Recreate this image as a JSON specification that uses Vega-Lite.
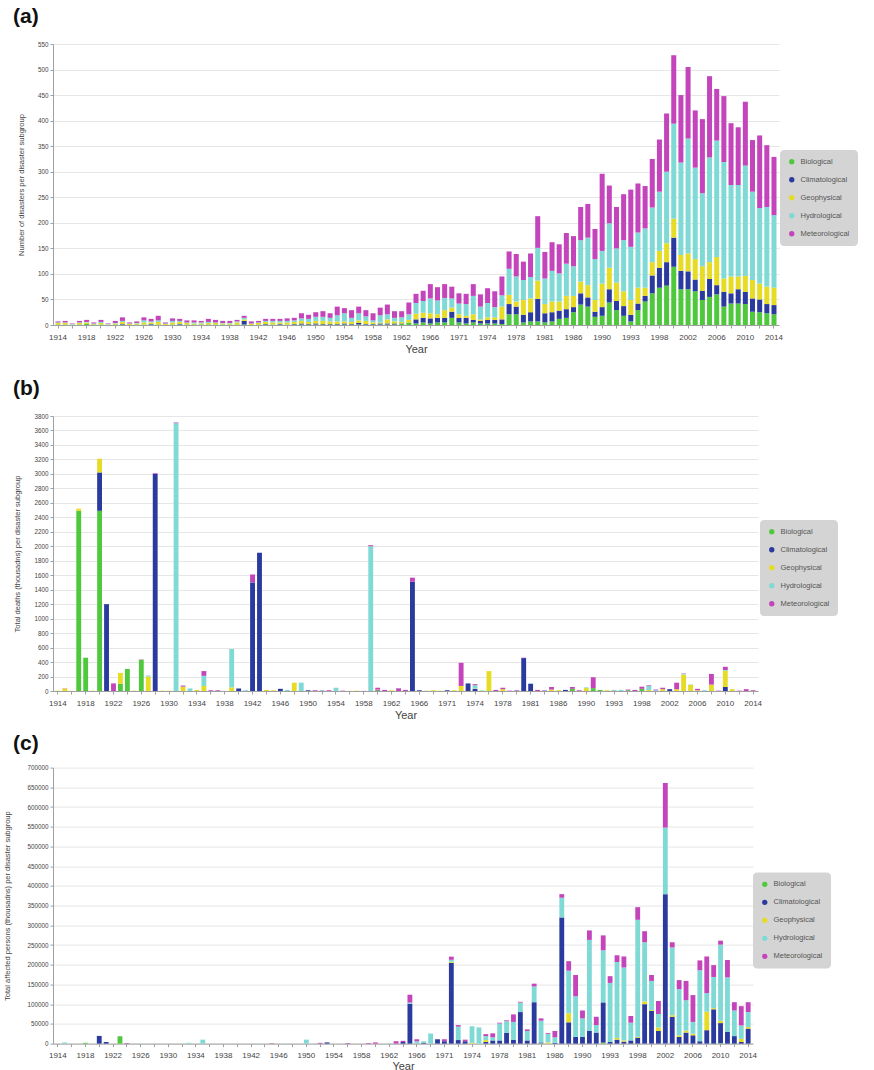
{
  "$schema": "https://vega.github.io/schema/vega-lite/v6.json",
  "background": "white",
  "padding": {"left": 3, "top": 6, "right": 0, "bottom": 0},
  "config": {
    "font": "Liberation Sans",
    "view": {"stroke": null},
    "axis": {
      "labelFont": "Liberation Sans",
      "titleFont": "Liberation Sans",
      "labelColor": "#444444",
      "titleColor": "#444444",
      "titleFontWeight": "normal",
      "domainColor": "#a0a0a0",
      "tickColor": "#a0a0a0",
      "gridColor": "#e6e6e6",
      "tickSize": 3,
      "labelPadding": 2
    },
    "axisX": {"labelAngle": 0, "labelFontSize": 8, "labelPadding": 5, "titleFontSize": 11, "titlePadding": 2, "grid": false},
    "axisY": {"labelFontSize": 6.3, "titleFontSize": 7.5, "titleAngle": -90, "titleAlign": "center", "titleBaseline": "middle"},
    "legend": {
      "symbolType": "circle",
      "symbolSize": 28,
      "symbolStrokeWidth": 0,
      "labelFont": "Liberation Sans",
      "labelFontSize": 7.5,
      "labelColor": "#555555",
      "labelOffset": 5,
      "fillColor": "#d4d4d4",
      "cornerRadius": 4,
      "padding": 8,
      "rowPadding": 9
    },
    "title": {"font": "Liberation Sans", "fontSize": 21, "fontWeight": "bold", "color": "#111111", "anchor": "start", "frame": "group"}
  },
  "datasets": {
    "counts": [
      {"year":1914,"Biological":1,"Climatological":0,"Geophysical":3,"Hydrological":1,"Meteorological":2},
      {"year":1915,"Biological":1,"Climatological":0,"Geophysical":3,"Hydrological":1,"Meteorological":3},
      {"year":1916,"Biological":0,"Climatological":0,"Geophysical":1,"Hydrological":1,"Meteorological":1},
      {"year":1917,"Biological":1,"Climatological":0,"Geophysical":3,"Hydrological":1,"Meteorological":3},
      {"year":1918,"Biological":2,"Climatological":0,"Geophysical":3,"Hydrological":1,"Meteorological":4},
      {"year":1919,"Biological":1,"Climatological":0,"Geophysical":1,"Hydrological":1,"Meteorological":2},
      {"year":1920,"Biological":1,"Climatological":0,"Geophysical":3,"Hydrological":2,"Meteorological":4},
      {"year":1921,"Biological":0,"Climatological":0,"Geophysical":1,"Hydrological":1,"Meteorological":1},
      {"year":1922,"Biological":1,"Climatological":0,"Geophysical":2,"Hydrological":1,"Meteorological":4},
      {"year":1923,"Biological":1,"Climatological":1,"Geophysical":4,"Hydrological":2,"Meteorological":7},
      {"year":1924,"Biological":0,"Climatological":0,"Geophysical":2,"Hydrological":1,"Meteorological":2},
      {"year":1925,"Biological":1,"Climatological":0,"Geophysical":2,"Hydrological":1,"Meteorological":3},
      {"year":1926,"Biological":1,"Climatological":0,"Geophysical":4,"Hydrological":4,"Meteorological":6},
      {"year":1927,"Biological":1,"Climatological":1,"Geophysical":3,"Hydrological":2,"Meteorological":5},
      {"year":1928,"Biological":1,"Climatological":0,"Geophysical":5,"Hydrological":3,"Meteorological":9},
      {"year":1929,"Biological":0,"Climatological":0,"Geophysical":2,"Hydrological":1,"Meteorological":2},
      {"year":1930,"Biological":1,"Climatological":0,"Geophysical":4,"Hydrological":3,"Meteorological":5},
      {"year":1931,"Biological":1,"Climatological":1,"Geophysical":4,"Hydrological":2,"Meteorological":4},
      {"year":1932,"Biological":1,"Climatological":0,"Geophysical":3,"Hydrological":1,"Meteorological":4},
      {"year":1933,"Biological":1,"Climatological":0,"Geophysical":2,"Hydrological":2,"Meteorological":4},
      {"year":1934,"Biological":1,"Climatological":0,"Geophysical":2,"Hydrological":2,"Meteorological":3},
      {"year":1935,"Biological":1,"Climatological":0,"Geophysical":3,"Hydrological":2,"Meteorological":6},
      {"year":1936,"Biological":1,"Climatological":0,"Geophysical":3,"Hydrological":1,"Meteorological":5},
      {"year":1937,"Biological":1,"Climatological":0,"Geophysical":2,"Hydrological":1,"Meteorological":4},
      {"year":1938,"Biological":1,"Climatological":0,"Geophysical":2,"Hydrological":1,"Meteorological":4},
      {"year":1939,"Biological":1,"Climatological":0,"Geophysical":4,"Hydrological":2,"Meteorological":3},
      {"year":1940,"Biological":1,"Climatological":7,"Geophysical":3,"Hydrological":3,"Meteorological":4},
      {"year":1941,"Biological":0,"Climatological":0,"Geophysical":2,"Hydrological":1,"Meteorological":4},
      {"year":1942,"Biological":1,"Climatological":0,"Geophysical":3,"Hydrological":1,"Meteorological":3},
      {"year":1943,"Biological":1,"Climatological":1,"Geophysical":4,"Hydrological":2,"Meteorological":4},
      {"year":1944,"Biological":1,"Climatological":0,"Geophysical":4,"Hydrological":3,"Meteorological":4},
      {"year":1945,"Biological":1,"Climatological":1,"Geophysical":3,"Hydrological":3,"Meteorological":4},
      {"year":1946,"Biological":1,"Climatological":0,"Geophysical":4,"Hydrological":3,"Meteorological":5},
      {"year":1947,"Biological":1,"Climatological":1,"Geophysical":4,"Hydrological":3,"Meteorological":5},
      {"year":1948,"Biological":1,"Climatological":2,"Geophysical":5,"Hydrological":5,"Meteorological":10},
      {"year":1949,"Biological":1,"Climatological":1,"Geophysical":4,"Hydrological":6,"Meteorological":8},
      {"year":1950,"Biological":1,"Climatological":2,"Geophysical":5,"Hydrological":8,"Meteorological":9},
      {"year":1951,"Biological":1,"Climatological":1,"Geophysical":6,"Hydrological":8,"Meteorological":11},
      {"year":1952,"Biological":1,"Climatological":1,"Geophysical":5,"Hydrological":7,"Meteorological":9},
      {"year":1953,"Biological":1,"Climatological":1,"Geophysical":5,"Hydrological":12,"Meteorological":17},
      {"year":1954,"Biological":1,"Climatological":2,"Geophysical":4,"Hydrological":16,"Meteorological":10},
      {"year":1955,"Biological":1,"Climatological":1,"Geophysical":4,"Hydrological":8,"Meteorological":15},
      {"year":1956,"Biological":1,"Climatological":3,"Geophysical":5,"Hydrological":14,"Meteorological":13},
      {"year":1957,"Biological":1,"Climatological":1,"Geophysical":6,"Hydrological":9,"Meteorological":12},
      {"year":1958,"Biological":1,"Climatological":1,"Geophysical":3,"Hydrological":4,"Meteorological":14},
      {"year":1959,"Biological":1,"Climatological":2,"Geophysical":2,"Hydrological":14,"Meteorological":15},
      {"year":1960,"Biological":1,"Climatological":2,"Geophysical":8,"Hydrological":10,"Meteorological":19},
      {"year":1961,"Biological":1,"Climatological":2,"Geophysical":4,"Hydrological":7,"Meteorological":13},
      {"year":1962,"Biological":2,"Climatological":1,"Geophysical":3,"Hydrological":9,"Meteorological":12},
      {"year":1963,"Biological":5,"Climatological":0,"Geophysical":5,"Hydrological":11,"Meteorological":23},
      {"year":1964,"Biological":3,"Climatological":8,"Geophysical":11,"Hydrological":21,"Meteorological":18},
      {"year":1965,"Biological":5,"Climatological":9,"Geophysical":10,"Hydrological":23,"Meteorological":20},
      {"year":1966,"Biological":3,"Climatological":10,"Geophysical":10,"Hydrological":29,"Meteorological":28},
      {"year":1967,"Biological":5,"Climatological":9,"Geophysical":7,"Hydrological":27,"Meteorological":26},
      {"year":1968,"Biological":5,"Climatological":9,"Geophysical":15,"Hydrological":24,"Meteorological":27},
      {"year":1969,"Biological":14,"Climatological":12,"Geophysical":8,"Hydrological":18,"Meteorological":23},
      {"year":1970,"Biological":5,"Climatological":9,"Geophysical":7,"Hydrological":21,"Meteorological":20},
      {"year":1971,"Biological":3,"Climatological":11,"Geophysical":4,"Hydrological":23,"Meteorological":20},
      {"year":1972,"Biological":5,"Climatological":5,"Geophysical":11,"Hydrological":36,"Meteorological":23},
      {"year":1973,"Biological":3,"Climatological":5,"Geophysical":3,"Hydrological":25,"Meteorological":24},
      {"year":1974,"Biological":3,"Climatological":7,"Geophysical":5,"Hydrological":28,"Meteorological":29},
      {"year":1975,"Biological":3,"Climatological":7,"Geophysical":5,"Hydrological":20,"Meteorological":31},
      {"year":1976,"Biological":2,"Climatological":9,"Geophysical":25,"Hydrological":22,"Meteorological":37},
      {"year":1977,"Biological":21,"Climatological":20,"Geophysical":18,"Hydrological":51,"Meteorological":34},
      {"year":1978,"Biological":21,"Climatological":15,"Geophysical":10,"Hydrological":49,"Meteorological":44},
      {"year":1979,"Biological":5,"Climatological":15,"Geophysical":29,"Hydrological":39,"Meteorological":36},
      {"year":1980,"Biological":7,"Climatological":18,"Geophysical":27,"Hydrological":42,"Meteorological":46},
      {"year":1981,"Biological":7,"Climatological":44,"Geophysical":36,"Hydrological":64,"Meteorological":62},
      {"year":1982,"Biological":5,"Climatological":18,"Geophysical":18,"Hydrological":50,"Meteorological":52},
      {"year":1983,"Biological":7,"Climatological":18,"Geophysical":21,"Hydrological":60,"Meteorological":56},
      {"year":1984,"Biological":12,"Climatological":16,"Geophysical":18,"Hydrological":55,"Meteorological":57},
      {"year":1985,"Biological":14,"Climatological":17,"Geophysical":26,"Hydrological":63,"Meteorological":60},
      {"year":1986,"Biological":25,"Climatological":10,"Geophysical":22,"Hydrological":58,"Meteorological":59},
      {"year":1987,"Biological":40,"Climatological":22,"Geophysical":23,"Hydrological":81,"Meteorological":65},
      {"year":1988,"Biological":36,"Climatological":18,"Geophysical":24,"Hydrological":93,"Meteorological":66},
      {"year":1989,"Biological":16,"Climatological":10,"Geophysical":23,"Hydrological":80,"Meteorological":59},
      {"year":1990,"Biological":18,"Climatological":17,"Geophysical":46,"Hydrological":64,"Meteorological":151},
      {"year":1991,"Biological":44,"Climatological":26,"Geophysical":42,"Hydrological":87,"Meteorological":74},
      {"year":1992,"Biological":29,"Climatological":18,"Geophysical":36,"Hydrological":67,"Meteorological":81},
      {"year":1993,"Biological":18,"Climatological":19,"Geophysical":29,"Hydrological":100,"Meteorological":90},
      {"year":1994,"Biological":7,"Climatological":13,"Geophysical":29,"Hydrological":104,"Meteorological":112},
      {"year":1995,"Biological":29,"Climatological":13,"Geophysical":31,"Hydrological":108,"Meteorological":96},
      {"year":1996,"Biological":46,"Climatological":11,"Geophysical":16,"Hydrological":116,"Meteorological":83},
      {"year":1997,"Biological":62,"Climatological":35,"Geophysical":26,"Hydrological":107,"Meteorological":95},
      {"year":1998,"Biological":73,"Climatological":39,"Geophysical":33,"Hydrological":116,"Meteorological":102},
      {"year":1999,"Biological":77,"Climatological":46,"Geophysical":37,"Hydrological":140,"Meteorological":114},
      {"year":2000,"Biological":114,"Climatological":57,"Geophysical":37,"Hydrological":186,"Meteorological":134},
      {"year":2001,"Biological":70,"Climatological":36,"Geophysical":31,"Hydrological":181,"Meteorological":132},
      {"year":2002,"Biological":70,"Climatological":35,"Geophysical":35,"Hydrological":225,"Meteorological":140},
      {"year":2003,"Biological":66,"Climatological":23,"Geophysical":40,"Hydrological":179,"Meteorological":112},
      {"year":2004,"Biological":49,"Climatological":18,"Geophysical":48,"Hydrological":143,"Meteorological":145},
      {"year":2005,"Biological":55,"Climatological":35,"Geophysical":33,"Hydrological":205,"Meteorological":159},
      {"year":2006,"Biological":60,"Climatological":18,"Geophysical":55,"Hydrological":228,"Meteorological":101},
      {"year":2007,"Biological":36,"Climatological":29,"Geophysical":26,"Hydrological":228,"Meteorological":129},
      {"year":2008,"Biological":42,"Climatological":20,"Geophysical":33,"Hydrological":179,"Meteorological":121},
      {"year":2009,"Biological":42,"Climatological":28,"Geophysical":25,"Hydrological":179,"Meteorological":113},
      {"year":2010,"Biological":41,"Climatological":24,"Geophysical":31,"Hydrological":216,"Meteorological":125},
      {"year":2011,"Biological":26,"Climatological":26,"Geophysical":36,"Hydrological":173,"Meteorological":101},
      {"year":2012,"Biological":25,"Climatological":25,"Geophysical":31,"Hydrological":148,"Meteorological":142},
      {"year":2013,"Biological":23,"Climatological":18,"Geophysical":34,"Hydrological":156,"Meteorological":121},
      {"year":2014,"Biological":21,"Climatological":18,"Geophysical":34,"Hydrological":142,"Meteorological":114}
    ],
    "deaths": [
      {"year":1914,"Biological":0,"Climatological":0,"Geophysical":5,"Hydrological":0,"Meteorological":0},
      {"year":1915,"Biological":0,"Climatological":0,"Geophysical":35,"Hydrological":0,"Meteorological":3},
      {"year":1916,"Biological":0,"Climatological":0,"Geophysical":2,"Hydrological":0,"Meteorological":0},
      {"year":1917,"Biological":2490,"Climatological":0,"Geophysical":30,"Hydrological":0,"Meteorological":0},
      {"year":1918,"Biological":460,"Climatological":0,"Geophysical":0,"Hydrological":0,"Meteorological":0},
      {"year":1919,"Biological":0,"Climatological":0,"Geophysical":5,"Hydrological":0,"Meteorological":0},
      {"year":1920,"Biological":2490,"Climatological":530,"Geophysical":190,"Hydrological":0,"Meteorological":0},
      {"year":1921,"Biological":0,"Climatological":1200,"Geophysical":0,"Hydrological":0,"Meteorological":0},
      {"year":1922,"Biological":0,"Climatological":0,"Geophysical":0,"Hydrological":0,"Meteorological":105},
      {"year":1923,"Biological":100,"Climatological":0,"Geophysical":150,"Hydrological":0,"Meteorological":0},
      {"year":1924,"Biological":305,"Climatological":0,"Geophysical":0,"Hydrological":0,"Meteorological":0},
      {"year":1925,"Biological":0,"Climatological":0,"Geophysical":5,"Hydrological":0,"Meteorological":0},
      {"year":1926,"Biological":430,"Climatological":0,"Geophysical":0,"Hydrological":0,"Meteorological":5},
      {"year":1927,"Biological":0,"Climatological":0,"Geophysical":200,"Hydrological":15,"Meteorological":0},
      {"year":1928,"Biological":0,"Climatological":3000,"Geophysical":0,"Hydrological":0,"Meteorological":10},
      {"year":1929,"Biological":0,"Climatological":0,"Geophysical":5,"Hydrological":0,"Meteorological":0},
      {"year":1930,"Biological":0,"Climatological":0,"Geophysical":5,"Hydrological":0,"Meteorological":0},
      {"year":1931,"Biological":0,"Climatological":0,"Geophysical":0,"Hydrological":3700,"Meteorological":10},
      {"year":1932,"Biological":0,"Climatological":0,"Geophysical":60,"Hydrological":0,"Meteorological":15},
      {"year":1933,"Biological":0,"Climatological":0,"Geophysical":0,"Hydrological":35,"Meteorological":0},
      {"year":1934,"Biological":0,"Climatological":0,"Geophysical":15,"Hydrological":0,"Meteorological":0},
      {"year":1935,"Biological":0,"Climatological":0,"Geophysical":70,"Hydrological":140,"Meteorological":65},
      {"year":1936,"Biological":0,"Climatological":0,"Geophysical":0,"Hydrological":0,"Meteorological":10},
      {"year":1937,"Biological":0,"Climatological":0,"Geophysical":0,"Hydrological":0,"Meteorological":10},
      {"year":1938,"Biological":0,"Climatological":0,"Geophysical":0,"Hydrological":0,"Meteorological":0},
      {"year":1939,"Biological":0,"Climatological":0,"Geophysical":50,"Hydrological":530,"Meteorological":0},
      {"year":1940,"Biological":0,"Climatological":35,"Geophysical":0,"Hydrological":0,"Meteorological":0},
      {"year":1941,"Biological":0,"Climatological":0,"Geophysical":0,"Hydrological":10,"Meteorological":0},
      {"year":1942,"Biological":0,"Climatological":1500,"Geophysical":0,"Hydrological":0,"Meteorological":110},
      {"year":1943,"Biological":0,"Climatological":1910,"Geophysical":0,"Hydrological":0,"Meteorological":0},
      {"year":1944,"Biological":0,"Climatological":0,"Geophysical":15,"Hydrological":0,"Meteorological":0},
      {"year":1945,"Biological":0,"Climatological":0,"Geophysical":10,"Hydrological":0,"Meteorological":0},
      {"year":1946,"Biological":0,"Climatological":30,"Geophysical":0,"Hydrological":0,"Meteorological":0},
      {"year":1947,"Biological":0,"Climatological":0,"Geophysical":0,"Hydrological":15,"Meteorological":0},
      {"year":1948,"Biological":0,"Climatological":0,"Geophysical":115,"Hydrological":0,"Meteorological":0},
      {"year":1949,"Biological":0,"Climatological":0,"Geophysical":0,"Hydrological":115,"Meteorological":0},
      {"year":1950,"Biological":0,"Climatological":10,"Geophysical":0,"Hydrological":0,"Meteorological":0},
      {"year":1951,"Biological":0,"Climatological":0,"Geophysical":0,"Hydrological":0,"Meteorological":10},
      {"year":1952,"Biological":0,"Climatological":5,"Geophysical":0,"Hydrological":0,"Meteorological":0},
      {"year":1953,"Biological":0,"Climatological":0,"Geophysical":0,"Hydrological":0,"Meteorological":10},
      {"year":1954,"Biological":0,"Climatological":0,"Geophysical":0,"Hydrological":45,"Meteorological":0},
      {"year":1955,"Biological":0,"Climatological":0,"Geophysical":0,"Hydrological":0,"Meteorological":5},
      {"year":1956,"Biological":0,"Climatological":0,"Geophysical":3,"Hydrological":0,"Meteorological":0},
      {"year":1957,"Biological":0,"Climatological":0,"Geophysical":5,"Hydrological":0,"Meteorological":0},
      {"year":1958,"Biological":0,"Climatological":0,"Geophysical":0,"Hydrological":0,"Meteorological":2},
      {"year":1959,"Biological":0,"Climatological":0,"Geophysical":0,"Hydrological":2000,"Meteorological":15},
      {"year":1960,"Biological":0,"Climatological":10,"Geophysical":10,"Hydrological":0,"Meteorological":25},
      {"year":1961,"Biological":0,"Climatological":0,"Geophysical":0,"Hydrological":0,"Meteorological":15},
      {"year":1962,"Biological":0,"Climatological":0,"Geophysical":10,"Hydrological":0,"Meteorological":0},
      {"year":1963,"Biological":0,"Climatological":0,"Geophysical":0,"Hydrological":0,"Meteorological":37},
      {"year":1964,"Biological":0,"Climatological":0,"Geophysical":0,"Hydrological":0,"Meteorological":15},
      {"year":1965,"Biological":0,"Climatological":1510,"Geophysical":0,"Hydrological":0,"Meteorological":56},
      {"year":1966,"Biological":0,"Climatological":10,"Geophysical":0,"Hydrological":0,"Meteorological":0},
      {"year":1967,"Biological":0,"Climatological":0,"Geophysical":5,"Hydrological":0,"Meteorological":0},
      {"year":1968,"Biological":0,"Climatological":0,"Geophysical":10,"Hydrological":0,"Meteorological":0},
      {"year":1969,"Biological":0,"Climatological":0,"Geophysical":5,"Hydrological":0,"Meteorological":0},
      {"year":1970,"Biological":0,"Climatological":10,"Geophysical":0,"Hydrological":0,"Meteorological":0},
      {"year":1971,"Biological":0,"Climatological":0,"Geophysical":10,"Hydrological":0,"Meteorological":0},
      {"year":1972,"Biological":0,"Climatological":0,"Geophysical":70,"Hydrological":0,"Meteorological":320},
      {"year":1973,"Biological":0,"Climatological":105,"Geophysical":0,"Hydrological":0,"Meteorological":0},
      {"year":1974,"Biological":0,"Climatological":30,"Geophysical":5,"Hydrological":45,"Meteorological":15},
      {"year":1975,"Biological":5,"Climatological":0,"Geophysical":0,"Hydrological":0,"Meteorological":0},
      {"year":1976,"Biological":0,"Climatological":0,"Geophysical":275,"Hydrological":0,"Meteorological":0},
      {"year":1977,"Biological":0,"Climatological":0,"Geophysical":0,"Hydrological":0,"Meteorological":15},
      {"year":1978,"Biological":0,"Climatological":0,"Geophysical":25,"Hydrological":0,"Meteorological":20},
      {"year":1979,"Biological":0,"Climatological":0,"Geophysical":0,"Hydrological":0,"Meteorological":5},
      {"year":1980,"Biological":0,"Climatological":5,"Geophysical":0,"Hydrological":0,"Meteorological":5},
      {"year":1981,"Biological":0,"Climatological":455,"Geophysical":0,"Hydrological":0,"Meteorological":5},
      {"year":1982,"Biological":0,"Climatological":100,"Geophysical":0,"Hydrological":6,"Meteorological":0},
      {"year":1983,"Biological":0,"Climatological":0,"Geophysical":0,"Hydrological":0,"Meteorological":15},
      {"year":1984,"Biological":0,"Climatological":5,"Geophysical":0,"Hydrological":0,"Meteorological":3},
      {"year":1985,"Biological":0,"Climatological":0,"Geophysical":20,"Hydrological":0,"Meteorological":35},
      {"year":1986,"Biological":0,"Climatological":0,"Geophysical":10,"Hydrological":0,"Meteorological":0},
      {"year":1987,"Biological":0,"Climatological":15,"Geophysical":0,"Hydrological":0,"Meteorological":0},
      {"year":1988,"Biological":30,"Climatological":0,"Geophysical":0,"Hydrological":0,"Meteorological":25},
      {"year":1989,"Biological":0,"Climatological":0,"Geophysical":0,"Hydrological":0,"Meteorological":10},
      {"year":1990,"Biological":0,"Climatological":0,"Geophysical":40,"Hydrological":10,"Meteorological":0},
      {"year":1991,"Biological":40,"Climatological":0,"Geophysical":0,"Hydrological":0,"Meteorological":150},
      {"year":1992,"Biological":15,"Climatological":0,"Geophysical":0,"Hydrological":0,"Meteorological":0},
      {"year":1993,"Biological":0,"Climatological":0,"Geophysical":10,"Hydrological":0,"Meteorological":0},
      {"year":1994,"Biological":0,"Climatological":5,"Geophysical":0,"Hydrological":10,"Meteorological":0},
      {"year":1995,"Biological":0,"Climatological":0,"Geophysical":0,"Hydrological":15,"Meteorological":0},
      {"year":1996,"Biological":10,"Climatological":0,"Geophysical":0,"Hydrological":0,"Meteorological":10},
      {"year":1997,"Biological":0,"Climatological":0,"Geophysical":0,"Hydrological":0,"Meteorological":15},
      {"year":1998,"Biological":30,"Climatological":0,"Geophysical":0,"Hydrological":0,"Meteorological":30},
      {"year":1999,"Biological":0,"Climatological":0,"Geophysical":15,"Hydrological":60,"Meteorological":8},
      {"year":2000,"Biological":0,"Climatological":0,"Geophysical":0,"Hydrological":10,"Meteorological":10},
      {"year":2001,"Biological":0,"Climatological":0,"Geophysical":25,"Hydrological":0,"Meteorological":20},
      {"year":2002,"Biological":0,"Climatological":25,"Geophysical":0,"Hydrological":0,"Meteorological":0},
      {"year":2003,"Biological":0,"Climatological":0,"Geophysical":25,"Hydrological":0,"Meteorological":90},
      {"year":2004,"Biological":0,"Climatological":0,"Geophysical":227,"Hydrological":10,"Meteorological":5},
      {"year":2005,"Biological":0,"Climatological":0,"Geophysical":85,"Hydrological":5,"Meteorological":0},
      {"year":2006,"Biological":0,"Climatological":0,"Geophysical":10,"Hydrological":0,"Meteorological":20},
      {"year":2007,"Biological":0,"Climatological":0,"Geophysical":0,"Hydrological":10,"Meteorological":0},
      {"year":2008,"Biological":0,"Climatological":0,"Geophysical":88,"Hydrological":0,"Meteorological":148},
      {"year":2009,"Biological":0,"Climatological":0,"Geophysical":0,"Hydrological":0,"Meteorological":5},
      {"year":2010,"Biological":0,"Climatological":55,"Geophysical":225,"Hydrological":10,"Meteorological":45},
      {"year":2011,"Biological":0,"Climatological":0,"Geophysical":25,"Hydrological":0,"Meteorological":0},
      {"year":2012,"Biological":0,"Climatological":0,"Geophysical":0,"Hydrological":0,"Meteorological":5},
      {"year":2013,"Biological":0,"Climatological":0,"Geophysical":0,"Hydrological":0,"Meteorological":25},
      {"year":2014,"Biological":0,"Climatological":0,"Geophysical":0,"Hydrological":0,"Meteorological":10}
    ],
    "affected": [
      {"year":1914,"Biological":0,"Climatological":0,"Geophysical":0,"Hydrological":0,"Meteorological":0},
      {"year":1915,"Biological":0,"Climatological":0,"Geophysical":0,"Hydrological":3000,"Meteorological":0},
      {"year":1916,"Biological":0,"Climatological":0,"Geophysical":0,"Hydrological":0,"Meteorological":0},
      {"year":1917,"Biological":0,"Climatological":0,"Geophysical":0,"Hydrological":0,"Meteorological":0},
      {"year":1918,"Biological":2000,"Climatological":0,"Geophysical":0,"Hydrological":0,"Meteorological":0},
      {"year":1919,"Biological":0,"Climatological":0,"Geophysical":0,"Hydrological":0,"Meteorological":0},
      {"year":1920,"Biological":0,"Climatological":19500,"Geophysical":0,"Hydrological":0,"Meteorological":0},
      {"year":1921,"Biological":0,"Climatological":4000,"Geophysical":0,"Hydrological":0,"Meteorological":0},
      {"year":1922,"Biological":0,"Climatological":0,"Geophysical":0,"Hydrological":0,"Meteorological":0},
      {"year":1923,"Biological":18600,"Climatological":0,"Geophysical":0,"Hydrological":0,"Meteorological":0},
      {"year":1924,"Biological":0,"Climatological":0,"Geophysical":0,"Hydrological":0,"Meteorological":1500},
      {"year":1925,"Biological":0,"Climatological":0,"Geophysical":0,"Hydrological":0,"Meteorological":0},
      {"year":1926,"Biological":0,"Climatological":0,"Geophysical":0,"Hydrological":0,"Meteorological":0},
      {"year":1927,"Biological":0,"Climatological":0,"Geophysical":0,"Hydrological":0,"Meteorological":0},
      {"year":1928,"Biological":0,"Climatological":0,"Geophysical":0,"Hydrological":0,"Meteorological":0},
      {"year":1929,"Biological":0,"Climatological":0,"Geophysical":0,"Hydrological":0,"Meteorological":0},
      {"year":1930,"Biological":0,"Climatological":0,"Geophysical":0,"Hydrological":0,"Meteorological":0},
      {"year":1931,"Biological":0,"Climatological":0,"Geophysical":0,"Hydrological":0,"Meteorological":0},
      {"year":1932,"Biological":0,"Climatological":0,"Geophysical":0,"Hydrological":0,"Meteorological":0},
      {"year":1933,"Biological":0,"Climatological":0,"Geophysical":0,"Hydrological":2000,"Meteorological":0},
      {"year":1934,"Biological":0,"Climatological":0,"Geophysical":0,"Hydrological":0,"Meteorological":0},
      {"year":1935,"Biological":0,"Climatological":0,"Geophysical":0,"Hydrological":10000,"Meteorological":0},
      {"year":1936,"Biological":0,"Climatological":0,"Geophysical":0,"Hydrological":0,"Meteorological":0},
      {"year":1937,"Biological":0,"Climatological":0,"Geophysical":0,"Hydrological":0,"Meteorological":0},
      {"year":1938,"Biological":0,"Climatological":0,"Geophysical":0,"Hydrological":0,"Meteorological":0},
      {"year":1939,"Biological":0,"Climatological":0,"Geophysical":0,"Hydrological":0,"Meteorological":0},
      {"year":1940,"Biological":0,"Climatological":0,"Geophysical":0,"Hydrological":0,"Meteorological":0},
      {"year":1941,"Biological":0,"Climatological":0,"Geophysical":0,"Hydrological":0,"Meteorological":0},
      {"year":1942,"Biological":0,"Climatological":0,"Geophysical":0,"Hydrological":0,"Meteorological":0},
      {"year":1943,"Biological":0,"Climatological":0,"Geophysical":0,"Hydrological":0,"Meteorological":0},
      {"year":1944,"Biological":0,"Climatological":0,"Geophysical":0,"Hydrological":0,"Meteorological":0},
      {"year":1945,"Biological":0,"Climatological":0,"Geophysical":0,"Hydrological":0,"Meteorological":1000},
      {"year":1946,"Biological":0,"Climatological":0,"Geophysical":0,"Hydrological":0,"Meteorological":0},
      {"year":1947,"Biological":0,"Climatological":0,"Geophysical":0,"Hydrological":0,"Meteorological":0},
      {"year":1948,"Biological":0,"Climatological":0,"Geophysical":0,"Hydrological":0,"Meteorological":0},
      {"year":1949,"Biological":0,"Climatological":0,"Geophysical":0,"Hydrological":0,"Meteorological":0},
      {"year":1950,"Biological":0,"Climatological":0,"Geophysical":0,"Hydrological":10000,"Meteorological":0},
      {"year":1951,"Biological":0,"Climatological":0,"Geophysical":0,"Hydrological":0,"Meteorological":0},
      {"year":1952,"Biological":0,"Climatological":0,"Geophysical":0,"Hydrological":0,"Meteorological":2000},
      {"year":1953,"Biological":0,"Climatological":3000,"Geophysical":0,"Hydrological":0,"Meteorological":0},
      {"year":1954,"Biological":0,"Climatological":0,"Geophysical":0,"Hydrological":0,"Meteorological":0},
      {"year":1955,"Biological":0,"Climatological":0,"Geophysical":0,"Hydrological":0,"Meteorological":0},
      {"year":1956,"Biological":0,"Climatological":0,"Geophysical":0,"Hydrological":0,"Meteorological":1500},
      {"year":1957,"Biological":0,"Climatological":0,"Geophysical":0,"Hydrological":0,"Meteorological":0},
      {"year":1958,"Biological":0,"Climatological":0,"Geophysical":0,"Hydrological":0,"Meteorological":0},
      {"year":1959,"Biological":0,"Climatological":0,"Geophysical":0,"Hydrological":0,"Meteorological":1500},
      {"year":1960,"Biological":0,"Climatological":0,"Geophysical":0,"Hydrological":0,"Meteorological":3000},
      {"year":1961,"Biological":0,"Climatological":0,"Geophysical":0,"Hydrological":0,"Meteorological":0},
      {"year":1962,"Biological":0,"Climatological":0,"Geophysical":0,"Hydrological":1000,"Meteorological":0},
      {"year":1963,"Biological":0,"Climatological":0,"Geophysical":0,"Hydrological":0,"Meteorological":6000},
      {"year":1964,"Biological":0,"Climatological":4000,"Geophysical":0,"Hydrological":0,"Meteorological":3000},
      {"year":1965,"Biological":0,"Climatological":101000,"Geophysical":0,"Hydrological":3000,"Meteorological":20000},
      {"year":1966,"Biological":0,"Climatological":0,"Geophysical":0,"Hydrological":6000,"Meteorological":5000},
      {"year":1967,"Biological":0,"Climatological":2000,"Geophysical":0,"Hydrological":4000,"Meteorological":0},
      {"year":1968,"Biological":0,"Climatological":0,"Geophysical":0,"Hydrological":25600,"Meteorological":0},
      {"year":1969,"Biological":0,"Climatological":11000,"Geophysical":0,"Hydrological":0,"Meteorological":0},
      {"year":1970,"Biological":0,"Climatological":6000,"Geophysical":0,"Hydrological":0,"Meteorological":5000},
      {"year":1971,"Biological":0,"Climatological":205000,"Geophysical":2500,"Hydrological":5000,"Meteorological":8000},
      {"year":1972,"Biological":0,"Climatological":9000,"Geophysical":0,"Hydrological":34000,"Meteorological":4000},
      {"year":1973,"Biological":0,"Climatological":6000,"Geophysical":0,"Hydrological":0,"Meteorological":4000},
      {"year":1974,"Biological":0,"Climatological":0,"Geophysical":2000,"Hydrological":42000,"Meteorological":0},
      {"year":1975,"Biological":0,"Climatological":0,"Geophysical":0,"Hydrological":41000,"Meteorological":0},
      {"year":1976,"Biological":0,"Climatological":4000,"Geophysical":5000,"Hydrological":10000,"Meteorological":5000},
      {"year":1977,"Biological":0,"Climatological":8000,"Geophysical":0,"Hydrological":8000,"Meteorological":10000},
      {"year":1978,"Biological":0,"Climatological":8000,"Geophysical":0,"Hydrological":43000,"Meteorological":2000},
      {"year":1979,"Biological":0,"Climatological":27000,"Geophysical":0,"Hydrological":30000,"Meteorological":2000},
      {"year":1980,"Biological":0,"Climatological":10000,"Geophysical":0,"Hydrological":45000,"Meteorological":19000},
      {"year":1981,"Biological":0,"Climatological":80000,"Geophysical":0,"Hydrological":24000,"Meteorological":2000},
      {"year":1982,"Biological":0,"Climatological":8000,"Geophysical":0,"Hydrological":24000,"Meteorological":4000},
      {"year":1983,"Biological":0,"Climatological":105000,"Geophysical":0,"Hydrological":40000,"Meteorological":7000},
      {"year":1984,"Biological":1000,"Climatological":2000,"Geophysical":0,"Hydrological":55000,"Meteorological":6000},
      {"year":1985,"Biological":0,"Climatological":0,"Geophysical":3000,"Hydrological":22000,"Meteorological":2000},
      {"year":1986,"Biological":0,"Climatological":2000,"Geophysical":0,"Hydrological":14000,"Meteorological":16000},
      {"year":1987,"Biological":0,"Climatological":320000,"Geophysical":0,"Hydrological":50000,"Meteorological":9000},
      {"year":1988,"Biological":0,"Climatological":54000,"Geophysical":23000,"Hydrological":108000,"Meteorological":24000},
      {"year":1989,"Biological":0,"Climatological":17000,"Geophysical":0,"Hydrological":103000,"Meteorological":54000},
      {"year":1990,"Biological":0,"Climatological":17000,"Geophysical":0,"Hydrological":47000,"Meteorological":20000},
      {"year":1991,"Biological":0,"Climatological":32000,"Geophysical":0,"Hydrological":231000,"Meteorological":24000},
      {"year":1992,"Biological":0,"Climatological":28000,"Geophysical":0,"Hydrological":19000,"Meteorological":21000},
      {"year":1993,"Biological":2500,"Climatological":102000,"Geophysical":0,"Hydrological":132000,"Meteorological":38000},
      {"year":1994,"Biological":0,"Climatological":4000,"Geophysical":0,"Hydrological":150000,"Meteorological":17000},
      {"year":1995,"Biological":0,"Climatological":10000,"Geophysical":4000,"Hydrological":193000,"Meteorological":17000},
      {"year":1996,"Biological":0,"Climatological":5000,"Geophysical":3000,"Hydrological":185000,"Meteorological":28000},
      {"year":1997,"Biological":0,"Climatological":8000,"Geophysical":0,"Hydrological":45000,"Meteorological":17000},
      {"year":1998,"Biological":0,"Climatological":15000,"Geophysical":2000,"Hydrological":297000,"Meteorological":32000},
      {"year":1999,"Biological":0,"Climatological":100000,"Geophysical":7000,"Hydrological":150000,"Meteorological":28000},
      {"year":2000,"Biological":0,"Climatological":83000,"Geophysical":2000,"Hydrological":74000,"Meteorological":15000},
      {"year":2001,"Biological":0,"Climatological":32000,"Geophysical":9000,"Hydrological":34000,"Meteorological":33000},
      {"year":2002,"Biological":0,"Climatological":379000,"Geophysical":0,"Hydrological":169000,"Meteorological":113000},
      {"year":2003,"Biological":0,"Climatological":68000,"Geophysical":4000,"Hydrological":172000,"Meteorological":13000},
      {"year":2004,"Biological":0,"Climatological":17000,"Geophysical":4000,"Hydrological":117000,"Meteorological":23000},
      {"year":2005,"Biological":0,"Climatological":28000,"Geophysical":5000,"Hydrological":77000,"Meteorological":49000},
      {"year":2006,"Biological":0,"Climatological":21000,"Geophysical":4000,"Hydrological":30000,"Meteorological":68000},
      {"year":2007,"Biological":0,"Climatological":6000,"Geophysical":0,"Hydrological":180000,"Meteorological":25000},
      {"year":2008,"Biological":0,"Climatological":34000,"Geophysical":47000,"Hydrological":47000,"Meteorological":93000},
      {"year":2009,"Biological":0,"Climatological":87000,"Geophysical":3000,"Hydrological":79000,"Meteorological":30000},
      {"year":2010,"Biological":1000,"Climatological":51000,"Geophysical":6000,"Hydrological":193000,"Meteorological":10000},
      {"year":2011,"Biological":0,"Climatological":30000,"Geophysical":0,"Hydrological":138000,"Meteorological":44000},
      {"year":2012,"Biological":0,"Climatological":19000,"Geophysical":0,"Hydrological":65000,"Meteorological":21000},
      {"year":2013,"Biological":0,"Climatological":4000,"Geophysical":8000,"Hydrological":34000,"Meteorological":49000},
      {"year":2014,"Biological":0,"Climatological":38000,"Geophysical":4000,"Hydrological":38000,"Meteorological":25000}
    ]
  },
  "bounds": "flush",
  "spacing": 91,
  "resolve": {"scale": {"x": "independent", "y": "independent", "color": "independent"}, "legend": {"color": "independent"}},
  "vconcat": [
    {
      "width": 726,
      "height": 281,
      "title": {"text": "(a)", "dx": -40, "offset": 14},
      "data": {"name": "counts"},
      "transform": [{"fold": ["Biological", "Climatological", "Geophysical", "Hydrological", "Meteorological"], "as": ["subgroup", "value"]}],
      "mark": {"type": "bar"},
      "encoding": {
        "x": {
          "field": "year", "type": "ordinal",
          "scale": {"paddingInner": 0.3, "paddingOuter": 0.35},
          "axis": {
            "title": "Year",
            "values": [1914,1916,1918,1920,1922,1924,1926,1928,1930,1932,1934,1936,1938,1940,1942,1944,1946,1948,1950,1952,1954,1956,1958,1960,1962,1964,1966,1968,1970,1972,1974,1976,1978,1980,1982,1984,1986,1988,1990,1992,1994,1996,1998,2000,2002,2004,2006,2008,2010,2012,2014],
            "labelExpr": "(datum.value - 1914) % 4 != 0 ? '' : datum.value == 1970 ? '1971' : datum.value == 1982 ? '1981' : datum.value == 1994 ? '1993' : datum.label"
          }
        },
        "y": {
          "field": "value", "type": "quantitative", "stack": "zero",
          "scale": {"domain": [0, 550], "nice": false},
          "axis": {
            "title": "Number of disasters per  disaster subgroup",
            "values": [0,50,100,150,200,250,300,350,400,450,500,550],
            "format": "d",
            "titleX": -32, "titleY": 140.5
          }
        },
        "color": {
          "field": "subgroup", "type": "nominal",
          "scale": {"domain": ["Biological", "Climatological", "Geophysical", "Hydrological", "Meteorological"], "range": ["#4fc83e", "#2b3a9e", "#e6dc26", "#7fd9d5", "#c344bb"]},
          "legend": {"title": null, "orient": "none", "legendX": 727, "legendY": 106, "symbolType": "circle"}
        },
        "order": {"field": "subgroup", "sort": "ascending"}
      }
    },
    {
      "bounds": "flush",
      "spacing": 76.6,
      "resolve": {"scale": {"x": "independent", "y": "independent", "color": "independent"}, "legend": {"color": "independent"}},
      "vconcat": [
        {
          "width": 705,
          "height": 275,
          "title": {"text": "(b)", "dx": -40, "offset": 14},
          "data": {"name": "deaths"},
          "transform": [{"fold": ["Biological", "Climatological", "Geophysical", "Hydrological", "Meteorological"], "as": ["subgroup", "value"]}],
          "mark": {"type": "bar"},
          "encoding": {
            "x": {
              "field": "year", "type": "ordinal",
              "scale": {"paddingInner": 0.3, "paddingOuter": 0.35},
              "axis": {
                "title": "Year",
                "titlePadding": 2,
                "values": [1914,1916,1918,1920,1922,1924,1926,1928,1930,1932,1934,1936,1938,1940,1942,1944,1946,1948,1950,1952,1954,1956,1958,1960,1962,1964,1966,1968,1970,1972,1974,1976,1978,1980,1982,1984,1986,1988,1990,1992,1994,1996,1998,2000,2002,2004,2006,2008,2010,2012,2014],
                "labelExpr": "(datum.value - 1914) % 4 != 0 ? '' : datum.value == 1970 ? '1971' : datum.value == 1982 ? '1981' : datum.value == 1994 ? '1993' : datum.label"
              }
            },
            "y": {
              "field": "value", "type": "quantitative", "stack": "zero",
              "scale": {"domain": [0, 3800], "nice": false},
              "axis": {
                "title": "Total deaths (thousadns) per  disaster subgroup",
                "values": [0,200,400,600,800,1000,1200,1400,1600,1800,2000,2200,2400,2600,2800,3000,3200,3400,3600,3800],
                "format": "d",
                "titleX": -36, "titleY": 137.5
              }
            },
            "color": {
              "field": "subgroup", "type": "nominal",
              "scale": {"domain": ["Biological", "Climatological", "Geophysical", "Hydrological", "Meteorological"], "range": ["#4fc83e", "#2b3a9e", "#e6dc26", "#7fd9d5", "#c344bb"]},
              "legend": {"title": null, "orient": "none", "legendX": 707, "legendY": 104, "symbolType": "circle"}
            },
            "order": {"field": "subgroup", "sort": "ascending"}
          }
        },
        {
          "width": 700,
          "height": 276,
          "title": {"text": "(c)", "dx": -40, "offset": 11},
          "data": {"name": "affected"},
          "transform": [{"fold": ["Biological", "Climatological", "Geophysical", "Hydrological", "Meteorological"], "as": ["subgroup", "value"]}],
          "mark": {"type": "bar"},
          "encoding": {
            "x": {
              "field": "year", "type": "ordinal",
              "scale": {"paddingInner": 0.3, "paddingOuter": 0.35},
              "axis": {
                "title": "Year",
                "titlePadding": 1,
                "values": [1914,1916,1918,1920,1922,1924,1926,1928,1930,1932,1934,1936,1938,1940,1942,1944,1946,1948,1950,1952,1954,1956,1958,1960,1962,1964,1966,1968,1970,1972,1974,1976,1978,1980,1982,1984,1986,1988,1990,1992,1994,1996,1998,2000,2002,2004,2006,2008,2010,2012,2014],
                "labelExpr": "(datum.value - 1914) % 4 != 0 ? '' : datum.value == 1970 ? '1971' : datum.value == 1982 ? '1981' : datum.value == 1994 ? '1993' : datum.label"
              }
            },
            "y": {
              "field": "value", "type": "quantitative", "stack": "zero",
              "scale": {"domain": [0, 700000], "nice": false},
              "axis": {
                "title": "Total affected persons (thousadns) per  disaster subgroup",
                "values": [0,50000,100000,150000,200000,250000,300000,350000,400000,450000,500000,550000,600000,650000,700000],
                "format": "d",
                "titleX": -46, "titleY": 138
              }
            },
            "color": {
              "field": "subgroup", "type": "nominal",
              "scale": {"domain": ["Biological", "Climatological", "Geophysical", "Hydrological", "Meteorological"], "range": ["#4fc83e", "#2b3a9e", "#e6dc26", "#7fd9d5", "#c344bb"]},
              "legend": {"title": null, "orient": "none", "legendX": 700, "legendY": 105, "symbolType": "circle"}
            },
            "order": {"field": "subgroup", "sort": "ascending"}
          }
        }
      ]
    }
  ]
}
